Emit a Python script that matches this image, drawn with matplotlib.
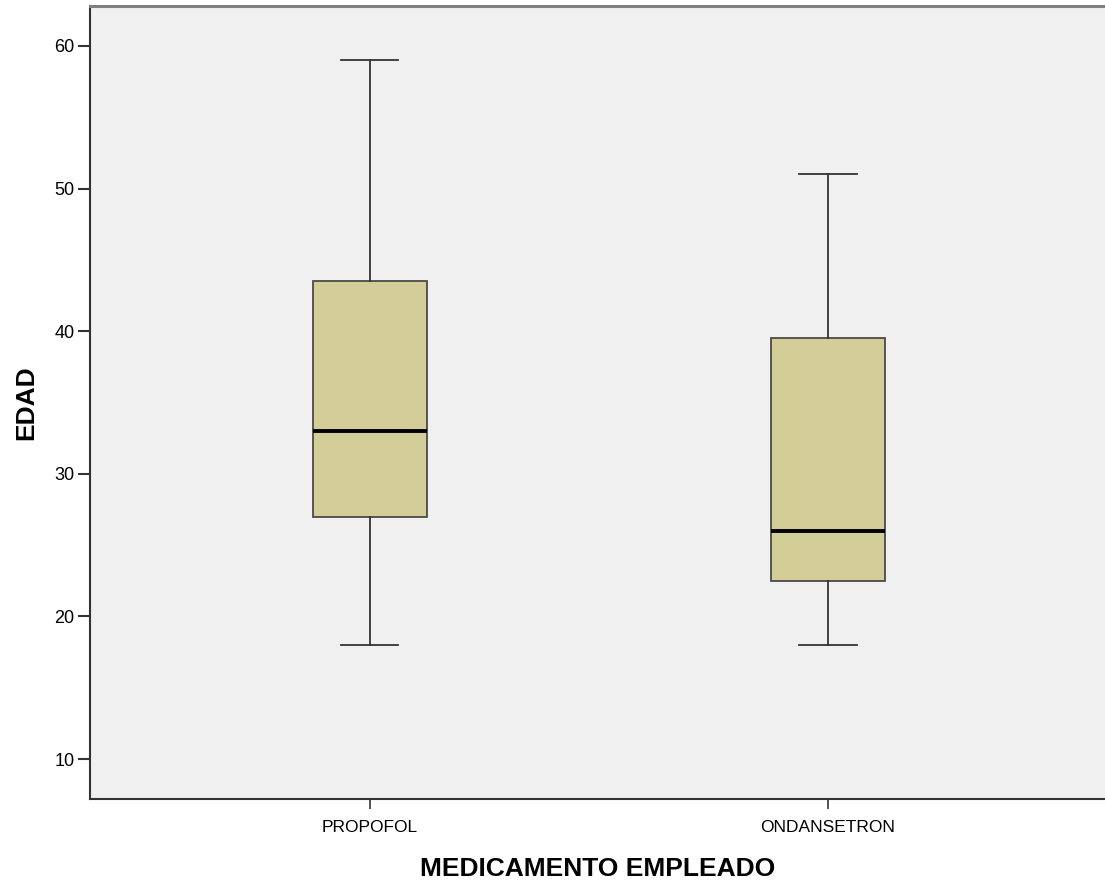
import matplotlib
matplotlib.use("Agg")
import matplotlib.pyplot as plt

# datos
grupos = ["PROPOFOL", "ONDANSETRON"]
minimos = [18, 18]
q1 = [27, 22.5]
medianas = [33, 26]
q3 = [43.5, 39.5]
maximos = [59, 51]
ticks_y = [10, 20, 30, 40, 50, 60]

plt.rcParams['font.family'] = ['Liberation Sans', 'DejaVu Sans']

stats = []
for i in range(len(grupos)):
    stats.append(dict(label=grupos[i], whislo=minimos[i], q1=q1[i],
                      med=medianas[i], q3=q3[i], whishi=maximos[i], fliers=[]))

fig = plt.figure(figsize=(11.05, 8.83), dpi=100)
ax = fig.add_axes([90/1105, 1-799/883, 1-90/1105, (799-6)/883])
ax.set_facecolor('#F0F0F0')

ax.bxp(stats, positions=range(len(grupos)), widths=0.25, patch_artist=True,
       boxprops=dict(facecolor='#D3CE97', edgecolor='#4a4a4a', linewidth=1.3),
       medianprops=dict(color='black', linewidth=2.8),
       whiskerprops=dict(color='#333333', linewidth=1.3),
       capprops=dict(color='#333333', linewidth=1.3),
       capwidths=0.125)

ax.set_xlim(-0.611, 1.605)
ax.set_ylim(7.2, 62.8)
ax.set_yticks(ticks_y)
ax.set_xticks(range(len(grupos)))
ax.set_xticklabels(grupos)

ax.tick_params(axis='y', labelsize=13, length=9, width=1.5, color='#333333', pad=2)
ax.tick_params(axis='x', labelsize=12.5, length=7, width=1.2, color='#333333', pad=8)

ax.spines['right'].set_visible(False)
ax.spines['top'].set_color('#7f7f7f')
ax.spines['top'].set_linewidth(2.2)
ax.spines['left'].set_color('#333333')
ax.spines['left'].set_linewidth(1.5)
ax.spines['bottom'].set_color('#333333')
ax.spines['bottom'].set_linewidth(1.5)

ax.set_ylabel("EDAD", fontsize=19, fontweight='bold', labelpad=12)
ax.set_xlabel("MEDICAMENTO EMPLEADO", fontsize=19, fontweight='bold', labelpad=16)

fig.savefig("out.png", dpi=100)
